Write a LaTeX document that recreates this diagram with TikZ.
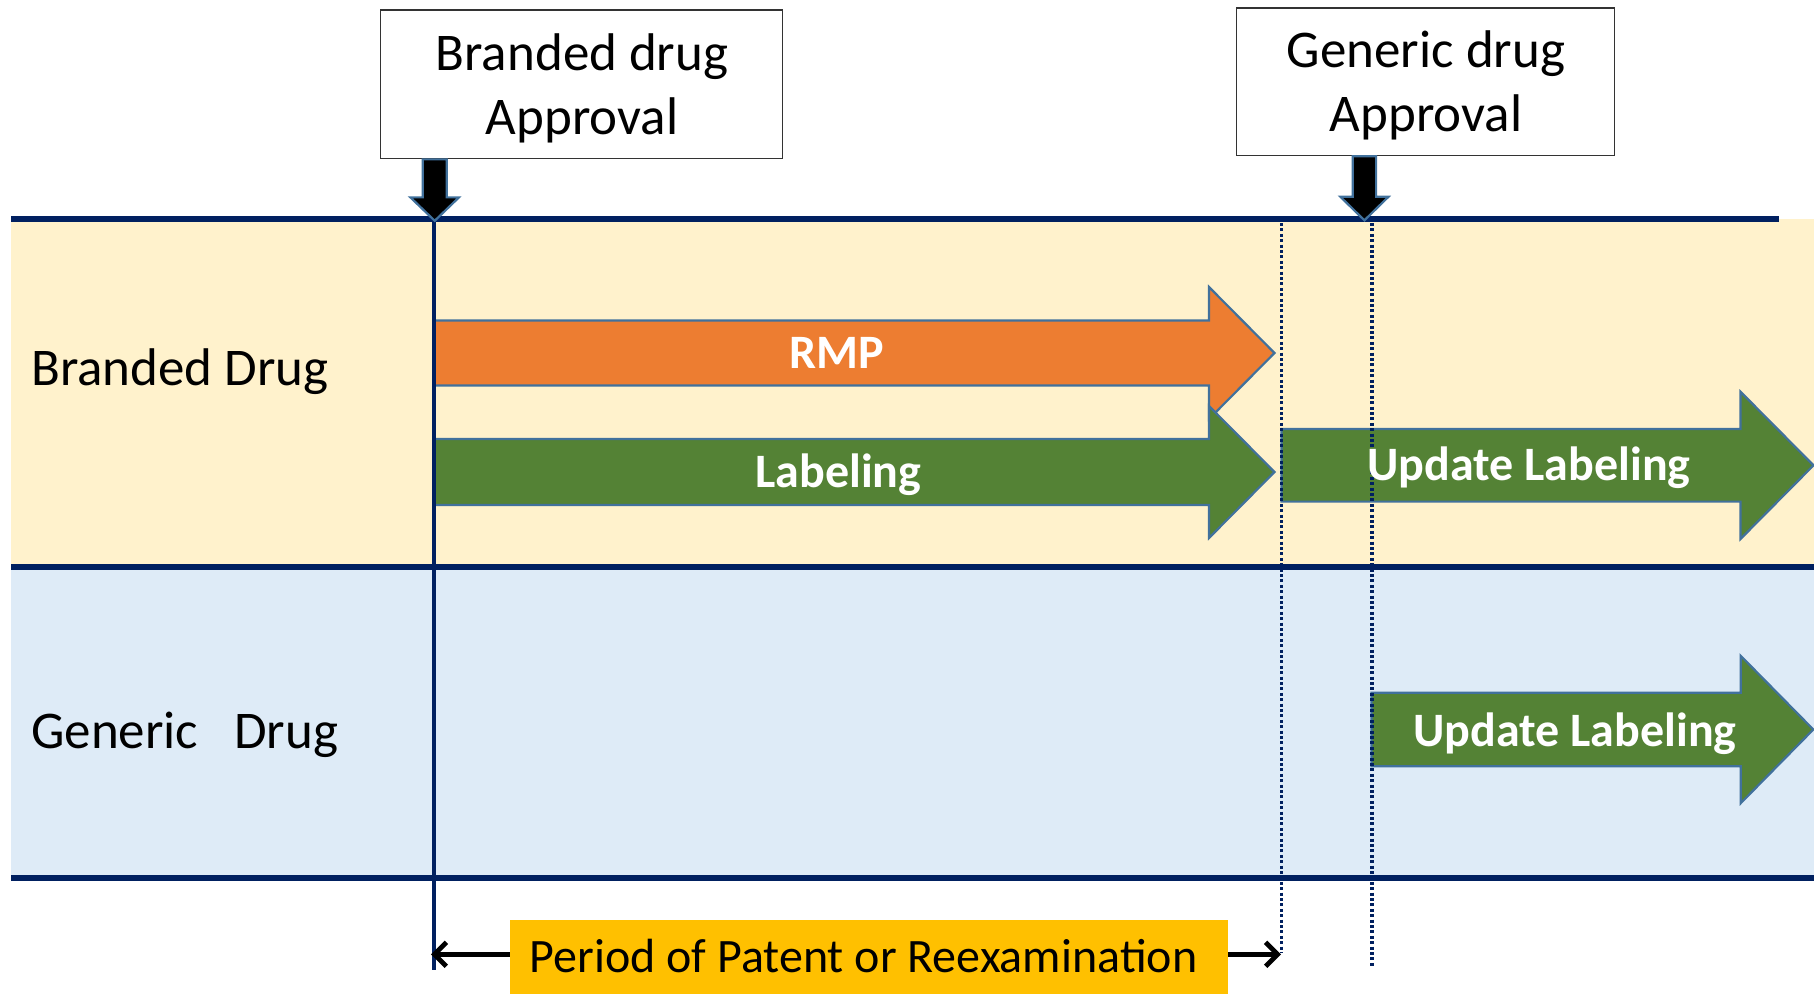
\documentclass[tikz,border=0pt]{standalone}
\usepackage{fontspec}
\setmainfont{Carlito}
\usetikzlibrary{arrows.meta}
\definecolor{navy}{HTML}{002060}
\definecolor{bandY}{HTML}{FFF2CC}
\definecolor{bandB}{HTML}{DEEBF7}
\definecolor{rmpC}{HTML}{ED7D31}
\definecolor{grnC}{HTML}{548235}
\definecolor{edgeC}{HTML}{41719C}
\definecolor{goldC}{HTML}{FFC000}
\begin{document}
\begin{tikzpicture}[x=1pt,y=-1pt,
  appbox/.style={draw=black!80, line width=1.5pt, fill=white, rectangle, inner sep=0pt},
  apptxt/.style={align=center, inner sep=0pt, font=\fontsize{53}{64}\selectfont},
  lanelbl/.style={inner sep=0pt, anchor=base west, font=\fontsize{53}{64}\selectfont},
  arrtxt/.style={inner sep=0pt, anchor=base, text=white, font=\bfseries\fontsize{48}{56}\selectfont},
  fatarr/.style={draw=edgeC, line width=2.2pt, line join=miter},
  blkarr/.style={draw=edgeC, fill=black, line width=2.2pt, line join=miter},
  navyline/.style={draw=navy, line width=6pt},
  dotline/.style={draw=navy, line width=3.6pt, dash pattern=on 3pt off 2.4pt},
  goldbox/.style={fill=goldC, inner sep=0pt, rectangle},
  parr/.style={draw=black, line width=4.8pt, -{Straight Barb[length=12pt,width=24pt]}}
]
\useasboundingbox (0,0) rectangle (1814,994);
% bands
\fill[bandY] (11,219) rectangle (1814,567);
\fill[bandB] (11,567) rectangle (1814,878);
% horizontal lines
\draw[navyline] (11,219) -- (1779,219);
\draw[navyline] (11,567) -- (1814,567);
\draw[navyline] (11,878) -- (1814,878);
% fat arrows
\draw[fatarr, fill=rmpC] (434,320.5) -- (1209,320.5) -- (1209,287) -- (1274.5,353) -- (1209,419) -- (1209,385.5) -- (434,385.5) -- cycle;
\draw[fatarr, fill=grnC] (434,439) -- (1209,439) -- (1209,406) -- (1274.5,472) -- (1209,538) -- (1209,505) -- (434,505) -- cycle;
\draw[fatarr, fill=grnC] (1281.5,429) -- (1740.5,429) -- (1740.5,391.7) -- (1813.5,465.3) -- (1740.5,539) -- (1740.5,501.6) -- (1281.5,501.6) -- cycle;
\draw[fatarr, fill=grnC] (1371.5,692.8) -- (1740.7,692.8) -- (1740.7,655.8) -- (1813.3,729.5) -- (1740.7,803.2) -- (1740.7,766.2) -- (1371.5,766.2) -- cycle;
% vertical lines
\draw[draw=navy, line width=3.2pt] (434,219) -- (434,970);
\draw[dotline] (1281.5,223) -- (1281.5,953);
\draw[dotline] (1372,223) -- (1372,966);
% approval boxes
\node[appbox, minimum width=402pt, minimum height=148.6pt] (bbox) at (581.6,84.3) {};
\node[apptxt] (btxt) at (582,88) {Branded drug\\Approval};
\node[appbox, minimum width=377.6pt, minimum height=147.5pt] (gbox) at (1425.5,81.8) {};
\node[apptxt] (gtxt) at (1426,85) {Generic drug\\Approval};
% black down arrows from the boxes
\begin{scope}[shift={(bbox.south -| 434.7,0)}]
\draw[blkarr] (-12,0) -- (12,0) -- (12,38) -- (24.3,38) -- (0,61.4) -- (-24.3,38) -- (-12,38) -- cycle;
\end{scope}
\begin{scope}[shift={(gbox.south -| 1364.4,0)}]
\draw[blkarr] (-11.7,0) -- (11.7,0) -- (11.7,40.5) -- (24,40.5) -- (0,64) -- (-24,40.5) -- (-11.7,40.5) -- cycle;
\end{scope}
% lane labels
\node[lanelbl] (brandlbl) at (31,385) {Branded Drug};
\node[lanelbl] (genlbl) at (31,748.3) {Generic\ \ \ Drug};
% arrow texts
\node[arrtxt] (rmp) at (837,368.3) {RMP};
\node[arrtxt] (lab) at (838.3,487.7) {Labeling};
\node[arrtxt] (upd1) at (1529,480) {Update Labeling};
\node[arrtxt] (upd2) at (1575,746) {Update Labeling};
% period
\node[goldbox, minimum width=718pt, minimum height=74pt] (period) at (869,957) {};
\node[inner sep=0pt, anchor=base, font=\fontsize{48}{56}\selectfont] (ptxt) at (863.5,972.7) {Period of Patent or Reexamination};
\coordinate (pL) at (431,954.3);
\coordinate (pR) at (1281,954.3);
\draw[parr] (pL -| period.west) -- (pL);
\draw[parr] (pR -| period.east) -- (pR);
\end{tikzpicture}
\end{document}
